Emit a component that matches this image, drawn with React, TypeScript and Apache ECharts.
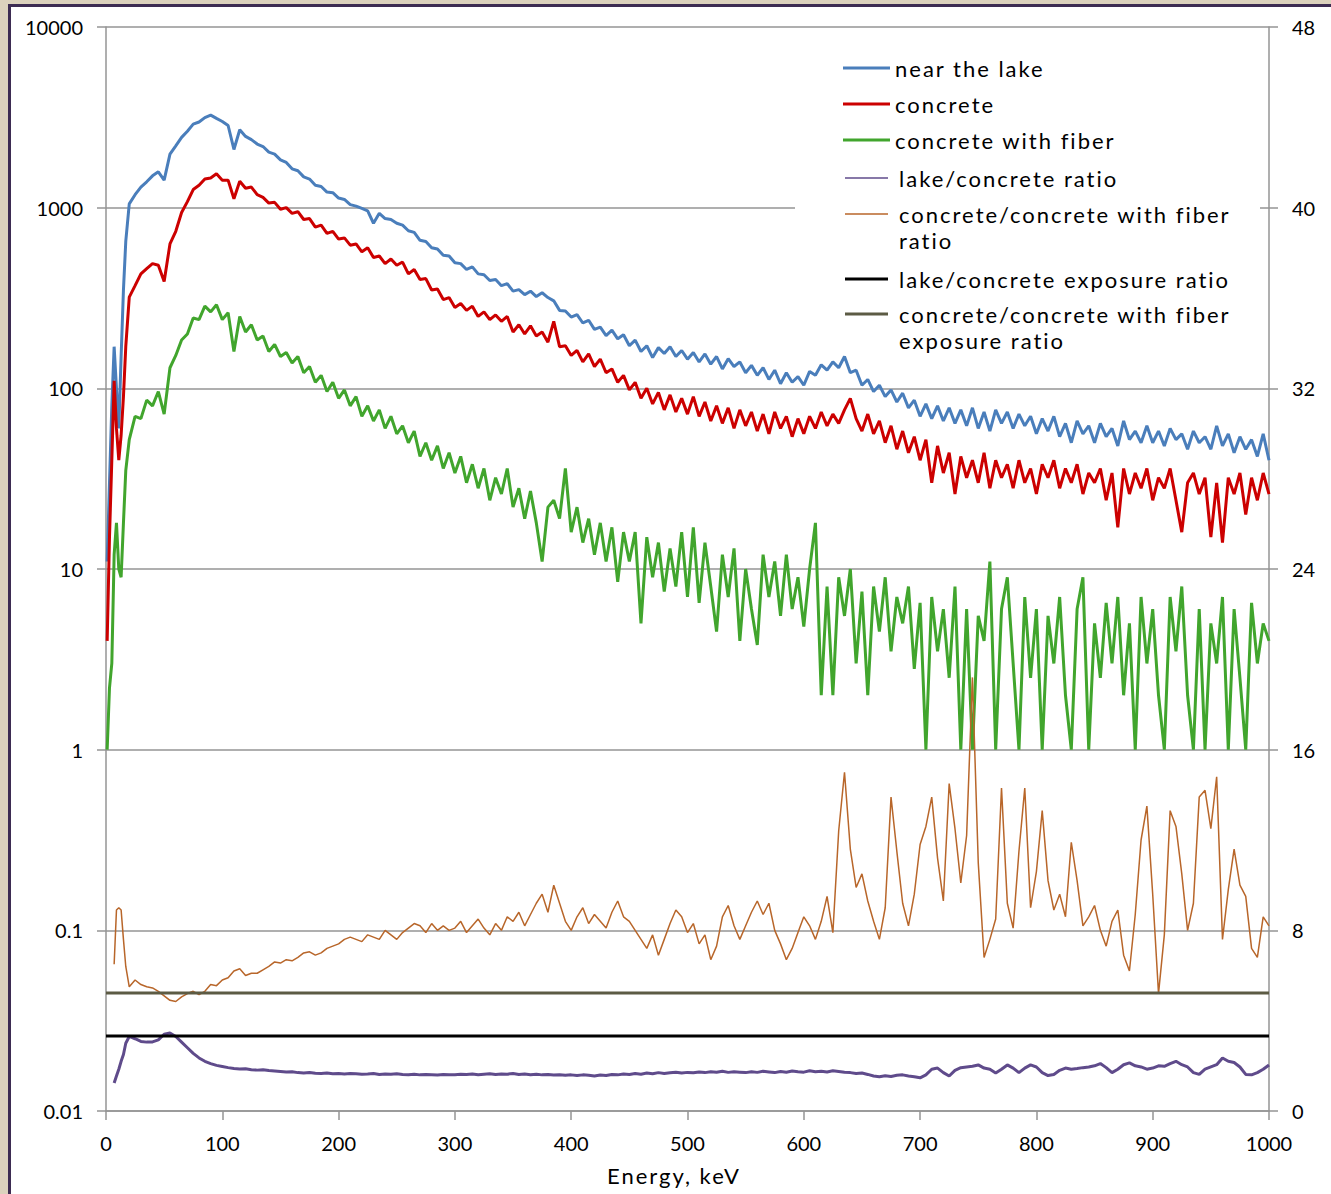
import React, { useEffect, useRef } from 'react';
import * as echarts from 'echarts';

// ---------- DATA ----------
// Energy grid, keV: a few early channels, then every 5 keV from 20 to 1000
const ENERGY_EARLY = [1, 3, 5, 7, 9, 11, 13, 15, 17];
const ENERGY_MAIN_START = 20;
const ENERGY_MAIN_STEP = 5;
const ENERGY_MAIN_COUNT = 197;

// near the lake (counts, left log axis)
const lakeEarly = [11, 30, 80, 170, 100, 60, 150, 350, 650];
const lakeMain = [
  1050, 1180, 1300, 1390, 1500, 1580, 1420, 1980, 2200, 2450,
  2650, 2900, 2980, 3150, 3250, 3120, 3000, 2850, 2100, 2700,
  2480, 2380, 2250, 2180, 2030, 1980, 1840, 1780, 1640, 1600,
  1480, 1440, 1330, 1310, 1220, 1210, 1130, 1110, 1040, 1020,
  990, 960, 820, 930, 870, 860, 820, 800, 745, 730,
  660, 650, 600, 590, 545, 540, 495, 490, 455, 470,
  430, 425, 395, 400, 370, 380, 345, 352, 330, 345,
  322, 338, 318, 305, 270, 268, 248, 256, 230, 238,
  212, 218, 196, 210, 188, 198, 172, 185, 160, 172,
  148, 168, 156, 170, 150, 162, 145, 158, 140, 155,
  136, 150, 128, 146, 132, 140, 122, 134, 118, 130,
  112, 126, 106, 122, 108, 116, 104, 124, 118, 135,
  126, 140, 130, 150, 122, 126, 104, 112, 96, 104,
  90, 98, 84, 94, 78, 86, 70, 82, 68, 80,
  66, 78, 64, 76, 62, 78, 60, 74, 58, 76,
  64, 74, 60, 72, 62, 70, 56, 68, 58, 70,
  54, 64, 50, 66, 56, 62, 50, 64, 54, 60,
  48, 66, 52, 58, 50, 62, 50, 58, 48, 60,
  52, 56, 46, 58, 50, 54, 46, 62, 48, 56,
  44, 54, 46, 52, 42, 56, 40,
];

// concrete
const concreteEarly = [4, 15, 40, 110, 60, 40, 55, 90, 170];
const concreteMain = [
  320, 370, 430, 460, 490, 480, 390, 630, 740, 940,
  1080, 1260, 1330, 1440, 1460, 1540, 1420, 1420, 1120, 1400,
  1280, 1300, 1180, 1140, 1060, 1070, 980, 1000, 930, 950,
  860, 870, 780, 800, 720, 740, 670, 680, 620, 630,
  570, 600, 530, 540, 490, 520, 480, 500, 430, 455,
  400, 405, 350, 355, 310, 318, 280, 295, 270, 285,
  250, 265, 240, 255, 235, 250, 205, 225, 200, 222,
  195, 205, 180, 235, 170, 172, 152, 162, 140, 155,
  132, 145, 122, 128, 108, 118, 98, 108, 88, 100,
  82, 95, 76, 92, 74, 88, 72, 90, 70, 84,
  66, 80, 64, 78, 60, 76, 62, 74, 58, 72,
  56, 74, 60, 70, 54, 68, 56, 70, 60, 74,
  62, 72, 64, 76, 88, 68, 58, 72, 56, 66,
  50, 62, 46, 58, 44, 54, 40, 52, 30, 48,
  34, 44, 26, 42, 32, 40, 30, 44, 28, 40,
  32, 38, 28, 40, 30, 36, 26, 38, 32, 40,
  28, 36, 30, 38, 26, 34, 30, 36, 24, 34,
  17, 36, 26, 34, 28, 36, 24, 32, 28, 36,
  24, 16, 30, 34, 26, 32, 15, 30, 14, 32,
  26, 34, 20, 32, 24, 34, 26,
];

// concrete with fiber
const fiberEarly = [1, 2.2, 3, 12, 18, 10, 9, 18, 35];
const fiberMain = [
  52, 70, 68, 86, 80, 96, 72, 130, 152, 185,
  200, 245, 240, 285, 265, 290, 240, 262, 160, 250,
  205, 225, 185, 195, 160, 175, 150, 158, 138, 150,
  122, 132, 108, 118, 96, 108, 88, 98, 80, 90,
  70, 80, 66, 76, 60, 70, 56, 62, 50, 58,
  42, 50, 40, 48, 36, 44, 34, 42, 30, 38,
  28, 36, 24, 32, 26, 36, 22, 28, 19, 27,
  18, 11, 22, 24, 19, 36, 16, 22, 14, 19,
  12, 18, 11, 17, 8.5, 16, 11, 16, 5, 15,
  9, 14, 7.5, 13, 8, 16, 7, 17, 6.5, 14,
  8, 4.5, 12, 7, 13, 4, 10, 6, 3.8, 12,
  7, 11, 5.5, 12, 6, 9, 4.8, 10, 18, 2,
  8, 2, 9, 5.5, 10, 3, 7.5, 2, 8, 4.5,
  9, 3.5, 7, 5, 8, 2.8, 6.5, 1, 7, 3.5,
  6, 2.5, 8, 1, 6, 1, 5.5, 4, 11, 1,
  6, 9, 3, 1, 7, 2.5, 6, 1, 5.5, 3,
  7, 2, 1, 6, 9, 1, 5, 2.5, 6.5, 3,
  7, 2, 5, 1, 7, 3, 6, 2, 1, 7,
  3.5, 8, 2, 1, 6, 1, 5, 3, 7, 1,
  6, 2.5, 1, 6.5, 3, 5, 4,
];

// lake/concrete ratio (right axis)
const lakeRatioEarly = [null, null, null, 1.24, 1.55, 1.85, 2.2, 2.5, 3.0];
const lakeRatioMain = [
  3.3, 3.2, 3.08, 3.05, 3.06, 3.15, 3.4, 3.45, 3.3, 3.05,
  2.8, 2.55, 2.35, 2.2, 2.1, 2.02, 1.97, 1.92, 1.88, 1.86,
  1.87, 1.83, 1.81, 1.83, 1.79, 1.77, 1.75, 1.73, 1.74, 1.70,
  1.68, 1.70, 1.67, 1.66, 1.68, 1.65, 1.66, 1.64, 1.66, 1.65,
  1.63, 1.64, 1.66, 1.62, 1.64, 1.63, 1.65, 1.62, 1.61, 1.63,
  1.60, 1.62, 1.61, 1.59, 1.62, 1.60, 1.61, 1.63, 1.62, 1.64,
  1.61, 1.63, 1.65, 1.62, 1.64, 1.63, 1.66, 1.62, 1.64, 1.61,
  1.63, 1.60, 1.62, 1.59, 1.61, 1.58, 1.60, 1.57, 1.60, 1.58,
  1.55, 1.59, 1.57, 1.62, 1.60, 1.64, 1.62, 1.66, 1.63, 1.68,
  1.65, 1.70, 1.66, 1.69, 1.72, 1.68, 1.71, 1.69, 1.73, 1.70,
  1.74, 1.72, 1.76, 1.71, 1.74, 1.72, 1.70, 1.74, 1.71, 1.76,
  1.73, 1.70, 1.75, 1.72, 1.77, 1.74, 1.72, 1.78, 1.74, 1.76,
  1.73, 1.78, 1.75, 1.72, 1.70, 1.66, 1.68, 1.62, 1.55, 1.52,
  1.56, 1.53, 1.58, 1.60, 1.55, 1.52, 1.47, 1.60, 1.85, 1.90,
  1.70, 1.55, 1.80, 1.92, 1.95, 1.98, 2.04, 1.90, 1.85, 1.68,
  1.85, 2.04, 1.90, 1.70, 1.90, 2.04, 1.95, 1.70, 1.57, 1.62,
  1.80, 1.90, 1.85, 1.88, 1.92, 1.95, 2.00, 2.10, 1.92, 1.70,
  1.85, 2.05, 2.13, 2.00, 1.95, 1.85, 1.90, 2.00, 1.98, 2.10,
  2.20, 2.05, 1.95, 1.70, 1.62, 1.85, 1.95, 2.05, 2.35, 2.20,
  2.15, 1.95, 1.62, 1.60, 1.70, 1.85, 2.04,
];

// concrete/concrete with fiber ratio (right axis)
const fiberRatioEarly = [null, null, null, 6.5, 8.9, 9.0, 8.9, 7.6, 6.4];
const fiberRatioMain = [
  5.5, 5.8, 5.6, 5.5, 5.45, 5.3, 5.1, 4.9, 4.85, 5.05,
  5.2, 5.3, 5.15, 5.3, 5.6, 5.55, 5.8, 5.9, 6.2, 6.3,
  6.0, 6.1, 6.1, 6.25, 6.4, 6.6, 6.55, 6.7, 6.65, 6.8,
  7.0, 7.05, 6.9, 7.0, 7.2, 7.3, 7.4, 7.6, 7.7, 7.6,
  7.5, 7.8, 7.7, 7.6, 8.0, 7.8, 7.6, 7.9, 8.1, 8.3,
  8.2, 7.9, 8.3, 8.0, 8.2, 8.0, 8.1, 8.4, 7.9, 8.2,
  8.5, 8.1, 7.8, 8.3, 8.0, 8.6, 8.4, 8.8, 8.2, 8.7,
  9.2, 9.6, 8.8, 10.0, 9.2, 8.4, 8.0, 8.6, 9.0, 8.3,
  8.7, 8.4, 8.1, 8.8, 9.3, 8.6, 8.4, 8.0, 7.6, 7.2,
  7.8, 6.9, 7.6, 8.3, 8.9, 8.6, 7.9, 8.3, 7.4, 7.8,
  6.7, 7.3, 8.6, 9.1, 8.2, 7.6, 8.2, 8.8, 9.3, 8.7,
  9.2, 8.0, 7.4, 6.7, 7.2, 7.9, 8.6, 8.2, 7.6, 8.4,
  9.5, 7.9, 12.4, 15.0, 11.6, 9.9, 10.5, 9.3, 8.4, 7.6,
  9.0, 13.9, 11.5, 9.2, 8.2, 9.6, 11.8, 12.6, 13.9, 11.2,
  9.3, 14.5, 12.5, 10.1, 12.2, 19.2, 11.0, 6.8, 7.6, 8.5,
  14.3, 9.2, 8.1, 11.5, 14.3, 9.0, 10.6, 13.3, 10.2, 8.9,
  9.6, 8.6, 11.9, 10.2, 8.2, 8.6, 9.1, 8.0, 7.3, 8.4,
  8.9, 6.9, 6.2, 8.7, 12.0, 13.5, 9.6, 5.2, 7.8, 13.3,
  12.6, 10.5, 8.0, 9.2, 13.9, 14.2, 12.5, 14.8, 7.6, 9.8,
  11.6, 10.0, 9.5, 7.2, 6.8, 8.6, 8.2,
];

// exposure ratios (right axis, constant)
const lakeExposureRatio = 3.32;
const fiberExposureRatio = 5.23;

const LEFT_TICK_LABELS = ['0.01', '0.1', '1', '10', '100', '1000', '10000'];
const X_AXIS_TITLE = 'Energy, keV';

const SERIES_NAMES = [
  'near the lake',
  'concrete',
  'concrete with fiber',
  'lake/concrete ratio',
  'concrete/concrete with fiber ratio',
  'lake/concrete exposure ratio',
  'concrete/concrete with fiber exposure ratio',
];

// ---------- styles ----------
const COLORS = ['#4a7ebb', '#cc0000', '#41a52d', '#5f4b8b', '#b8662a', '#000000', '#5c5b44'];
const WIDTHS = [3, 3, 3, 3, 1.5, 3, 3];
const TICK_FONT = 'Lato';
const LEGEND_FONT = 'Lato, LSP';
const GRID_COLOR = '#959595';

function buildEnergies(): number[] {
  const e = ENERGY_EARLY.slice();
  for (let i = 0; i < ENERGY_MAIN_COUNT; i++) e.push(ENERGY_MAIN_START + ENERGY_MAIN_STEP * i);
  return e;
}

function pairs(energies: number[], early: (number | null)[], main: number[]) {
  const vals = [...early, ...main];
  return energies.map((e, i) => [e, vals[i] == null ? null : vals[i]]);
}

export default function App() {
  const ref = useRef<HTMLDivElement>(null);

  useEffect(() => {
    if (!ref.current) return;
    const chart = echarts.init(ref.current, undefined, { renderer: 'svg' });
    const energies = buildEnergies();

    const lineSeries = (idx: number, data: any[], yAxisIndex: number) => ({
      name: SERIES_NAMES[idx],
      type: 'line',
      yAxisIndex,
      data,
      showSymbol: false,
      symbol: 'none',
      connectNulls: false,
      clip: true,
      lineStyle: { color: COLORS[idx], width: WIDTHS[idx] },
      itemStyle: { color: COLORS[idx] },
      z: 2 + idx,
    });

    const legendRows = [
      { idx: 0, y: 68, lx1: 843, lx2: 890, tx: 895, lines: 1, lh: 26 },
      { idx: 1, y: 104, lx1: 843, lx2: 890, tx: 895, lines: 1, lh: 26 },
      { idx: 2, y: 140, lx1: 843, lx2: 890, tx: 895, lines: 1, lh: 26 },
      { idx: 3, y: 178, lx1: 845, lx2: 888, tx: 899, lines: 1, lh: 26 },
      { idx: 4, y: 214, lx1: 845, lx2: 888, tx: 899, lines: 2, lh: 26 },
      { idx: 5, y: 279, lx1: 845, lx2: 888, tx: 899, lines: 1, lh: 26 },
      { idx: 6, y: 314, lx1: 845, lx2: 888, tx: 899, lines: 2, lh: 26 },
    ];
    const legendText = (idx: number) => {
      if (idx === 4) return 'concrete/concrete with fiber\nratio';
      if (idx === 6) return 'concrete/concrete with fiber\nexposure ratio';
      return SERIES_NAMES[idx];
    };
    const legendWidths = [3, 3, 3, 1.5, 1.5, 3, 3];

    const legendChildren: any[] = [
      {
        type: 'rect',
        z: 100,
        shape: { x: 795, y: 40, width: 465, height: 315 },
        style: { fill: '#ffffff' },
      },
    ];
    legendRows.forEach((r) => {
      legendChildren.push({
        type: 'line',
        z: 101,
        shape: { x1: r.lx1, y1: r.y, x2: r.lx2, y2: r.y },
        style: { stroke: COLORS[r.idx], lineWidth: legendWidths[r.idx] },
      });
      legendChildren.push({
        type: 'text',
        z: 101,
        x: r.tx,
        y: r.lines === 1 ? r.y : r.y - r.lh / 2,
        style: {
          text: legendText(r.idx),
          fill: '#000000',
          fontSize: 22,
          fontFamily: LEGEND_FONT,
          lineHeight: r.lh,
          align: 'left',
          verticalAlign: r.lines === 1 ? 'middle' : 'top',
        },
      });
    });

    const axisLineStyle = { color: GRID_COLOR, width: 1.5 };
    const labelStyle = { color: '#000000', fontFamily: TICK_FONT, fontSize: 20 };

    chart.setOption({
      animation: false,
      backgroundColor: 'transparent',
      grid: { left: 106, right: 62, top: 27, bottom: 83, containLabel: false },
      xAxis: {
        type: 'value',
        min: 0,
        max: 1000,
        interval: 100,
        axisLine: { show: true, onZero: false, lineStyle: axisLineStyle },
        axisTick: { show: true, length: 9, lineStyle: axisLineStyle },
        axisLabel: { ...labelStyle, margin: 22, formatter: (v: number) => String(v) },
        splitLine: { show: false },
      },
      yAxis: [
        {
          type: 'log',
          logBase: 10,
          min: 0.01,
          max: 10000,
          position: 'left',
          axisLine: { show: true, onZero: false, lineStyle: axisLineStyle },
          axisTick: { show: true, length: 9, lineStyle: axisLineStyle },
          axisLabel: {
            ...labelStyle,
            margin: 23,
            formatter: (v: number) => LEFT_TICK_LABELS[Math.round(Math.log10(v)) + 2] ?? '',
          },
          splitLine: { show: true, lineStyle: axisLineStyle },
          minorTick: { show: false },
          minorSplitLine: { show: false },
        },
        {
          type: 'value',
          min: 0,
          max: 48,
          interval: 8,
          position: 'right',
          axisLine: { show: true, onZero: false, lineStyle: axisLineStyle },
          axisTick: { show: true, length: 9, lineStyle: axisLineStyle },
          axisLabel: { ...labelStyle, margin: 23, formatter: (v: number) => String(v) },
          splitLine: { show: false },
        },
      ],
      graphic: [
        { type: 'group', z: 100, children: legendChildren },
        {
          type: 'text',
          z: 100,
          x: 674,
          y: 1175,
          style: {
            text: X_AXIS_TITLE,
            fill: '#000000',
            fontSize: 22,
            fontFamily: LEGEND_FONT,
            align: 'center',
            verticalAlign: 'middle',
          },
        },
      ],
      series: [
        lineSeries(0, pairs(energies, lakeEarly, lakeMain), 0),
        lineSeries(1, pairs(energies, concreteEarly, concreteMain), 0),
        lineSeries(2, pairs(energies, fiberEarly, fiberMain), 0),
        lineSeries(3, pairs(energies, lakeRatioEarly, lakeRatioMain), 1),
        lineSeries(4, pairs(energies, fiberRatioEarly, fiberRatioMain), 1),
        lineSeries(5, [[0, lakeExposureRatio], [1000, lakeExposureRatio]], 1),
        lineSeries(6, [[0, fiberExposureRatio], [1000, fiberExposureRatio]], 1),
      ],
    });

    return () => chart.dispose();
  }, []);

  return (
    <div
      style={{
        position: 'fixed',
        left: 0,
        top: 0,
        width: 1331,
        height: 1194,
        overflow: 'hidden',
        background: '#dcd2bd',
      }}
    >
      <style>{`text[style*="LSP"]{letter-spacing:2px;}`}</style>
      <div
        style={{
          position: 'absolute',
          left: 8,
          top: 4,
          width: 1400,
          height: 1300,
          background: '#ffffff',
          borderLeft: '3px solid #3d2c52',
          borderTop: '3px solid #3d2c52',
        }}
      />
      <div ref={ref} style={{ position: 'absolute', left: 0, top: 0, width: 1331, height: 1194 }} />
    </div>
  );
}
